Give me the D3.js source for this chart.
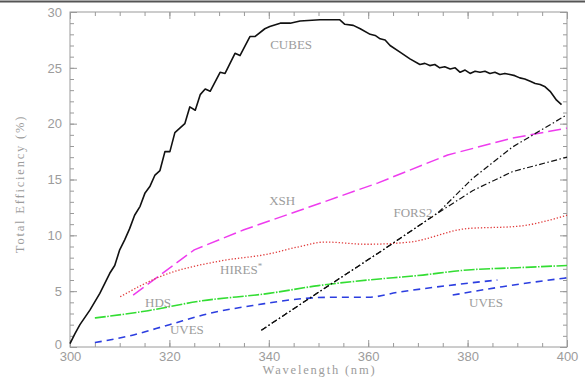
<!DOCTYPE html>
<html>
<head>
<meta charset="utf-8">
<script src="https://cdn.jsdelivr.net/npm/d3@7"></script>
<style>
  body { margin: 0; background: #fff; }
  svg { display: block; }
  .lbl { font-family: "Liberation Serif", serif; font-size: 13px; fill: #9c9c9c; }
  .tick text { font-family: "Liberation Sans", sans-serif; font-size: 13px; fill: #9c9c9c; }
  .tick line { stroke: #9a9a9a; }
</style>
</head>
<body>
<div id="chart"></div>
<script>
// wavelength (nm), total efficiency (%)
const cubes = [[300,0.3],[301,1.2],[302,2.0],[304,3.3],[306,4.8],[308,6.6],[309,7.3],[310,8.7],[311,9.6],
  [312,10.6],[313,11.8],[314.1,12.6],[315.1,13.8],[316.1,14.4],[317.1,15.4],[318.1,15.8],[319.1,17.5],
  [320.1,17.5],[321.1,19.2],[322.1,19.6],[323.1,20.0],[324.1,21.5],[325.2,21.2],[326.2,22.6],[327.2,23.1],
  [328.2,22.9],[330.2,24.6],[331.2,24.5],[333.2,26.3],[334.2,26.1],[336.2,27.8],[337.2,27.8],[339.2,28.5],
  [340.2,28.7],[342.3,29.0],[344.3,29.0],[346.3,29.2],[350.3,29.3],[354.3,29.3],[355.3,28.9],[357,28.8],
  [358.4,28.5],[360.4,28.0],[361.4,27.9],[362.4,27.6],[363.4,27.5],[364.4,27.0],[366.4,26.4],[368.4,25.8],
  [370.4,25.3],[371.4,25.4],[372.4,25.2],[373.4,25.3],[374.4,25.0],[375.4,25.1],[376.5,24.9],[377.5,25.0],
  [378.5,24.6],[379.5,24.8],[380.5,24.5],[381.5,24.7],[382.5,24.6],[383.5,24.7],[384.5,24.5],[385.5,24.6],
  [386.5,24.4],[387.5,24.5],[388.5,24.4],[389.5,24.3],[390.5,24.1],[391.5,24.0],[392.6,23.8],[393.6,23.6],
  [394.6,23.5],[395.6,23.3],[396.6,22.9],[397.9,22.1],[398.9,21.7]];
const xsh = [[312.7,4.65],[325,8.7],[335,10.5],[346,12.2],[362,14.7],[376,17.2],[389,18.7],[400,19.6]];
const hires = [[310.1,4.5],[318.1,6.3],[330.2,7.7],[339.6,8.3],[346.3,9.0],[351.3,9.4],[359.7,9.2],
  [368.4,9.4],[379.8,10.6],[389.9,10.8],[400,11.8]];
const hds = [[305,2.6],[315,3.2],[326,4.1],[340,4.8],[350,5.5],[360,6.0],[370,6.4],[380,6.9],[390,7.1],[400,7.3]];
const uves1 = [[305,0.4],[312,1.0],[320,2.0],[328,3.0],[338,3.8],[346,4.3],[352,4.45],[360,4.45],
  [366,4.9],[376,5.5],[386,6.0]];
const uves2 = [[377,4.65],[387,5.4],[400,6.2]];
const fors2a = [[338.5,1.5],[350,4.9],[363,8.7],[374,12.0],[381,15.1],[389,17.9],[400,20.8]];
const fors2b = [[338.5,1.5],[350,4.9],[363,8.7],[374,12.0],[381,14.0],[389,15.7],[400,17.0]];

const xTicks = [300, 320, 340, 360, 380, 400];
const yTicks = [0, 5, 10, 15, 20, 25, 30];

const series = [
  { data: cubes, color: "#111", width: 1.6, dash: null, curve: d3.curveLinear },
  { data: xsh, color: "#ee3cee", width: 1.5, dash: "13,5", curve: d3.curveLinear },
  { data: hires, color: "#e03a3a", width: 1.3, dash: "1.3,1.9", curve: d3.curveMonotoneX },
  { data: hds, color: "#33dd33", width: 1.6, dash: "11,1.5,1.5,1.5", curve: d3.curveMonotoneX },
  { data: uves1, color: "#2c3ee0", width: 1.6, dash: "7,5", curve: d3.curveMonotoneX },
  { data: uves2, color: "#2c3ee0", width: 1.6, dash: "7,5", curve: d3.curveMonotoneX },
  { data: fors2a, color: "#111", width: 1.2, dash: "6,2.5,1.5,2.5", curve: d3.curveLinear },
  { data: fors2b, color: "#111", width: 1.2, dash: "6,2.5,1.5,2.5", curve: d3.curveLinear }
];

const labels = [
  { text: "CUBES", x: 344.5, y: 26.7, anchor: "middle" },
  { text: "XSH", x: 342.7, y: 12.7, anchor: "middle" },
  { text: "FORS2", x: 369.0, y: 11.67, anchor: "middle" },
  { text: "HIRES", x: 330.2, y: 6.54, anchor: "start", star: true },
  { text: "HDS", x: 315.1, y: 3.6, anchor: "start" },
  { text: "UVES", x: 320.1, y: 1.16, anchor: "start" },
  { text: "UVES", x: 380.3, y: 3.6, anchor: "start" }
];

const W = 585, H = 382;
const plot = { left: 70, right: 567, top: 12, bottom: 347 };

const svg = d3.select("#chart").append("svg").attr("width", W).attr("height", H);

// screenshot border at the top
svg.append("line").attr("x1", 0).attr("x2", W).attr("y1", 1.5).attr("y2", 1.5)
  .attr("stroke", "#555").attr("stroke-width", 2);

const x = d3.scaleLinear().domain([300, 400]).range([plot.left, plot.right]);
const y = d3.scaleLinear().domain([0, 30]).range([plot.bottom, plot.top]);

function addAxis(axis, tx, ty) {
  const g = svg.append("g").attr("transform", `translate(${tx},${ty})`).call(axis);
  g.select(".domain").remove();
  return g;
}

const minorX = d3.range(300, 401, 5);
const minorY = d3.range(0, 31, 1);

// bottom / top
addAxis(d3.axisBottom(x).tickValues(minorX).tickSize(-4).tickFormat(""), 0, plot.bottom);
addAxis(d3.axisBottom(x).tickValues(xTicks).tickSize(-7).tickPadding(5).tickFormat(d3.format("d")), 0, plot.bottom);
addAxis(d3.axisTop(x).tickValues(minorX).tickSize(-4).tickFormat(""), 0, plot.top);
addAxis(d3.axisTop(x).tickValues(xTicks).tickSize(-7).tickFormat(""), 0, plot.top);
// left / right
addAxis(d3.axisLeft(y).tickValues(minorY).tickSize(-4).tickFormat(""), plot.left, 0);
const yAxisG = addAxis(d3.axisLeft(y).tickValues(yTicks).tickSize(-7).tickPadding(8).tickFormat(d3.format("d")), plot.left, 0);
// lift the "0" a little so it clears the "300" below it
yAxisG.selectAll(".tick text").filter(d => d === 0).attr("dy", "0.1em");
addAxis(d3.axisRight(y).tickValues(minorY).tickSize(-4).tickFormat(""), plot.right, 0);
addAxis(d3.axisRight(y).tickValues(yTicks).tickSize(-7).tickFormat(""), plot.right, 0);

svg.append("rect")
  .attr("x", plot.left).attr("y", plot.top)
  .attr("width", plot.right - plot.left).attr("height", plot.bottom - plot.top)
  .attr("fill", "none").attr("stroke", "#9a9a9a").attr("stroke-width", 1);

const lines = svg.append("g");
series.forEach(s => {
  const line = d3.line().x(d => x(d[0])).y(d => y(d[1])).curve(s.curve);
  lines.append("path").datum(s.data)
    .attr("d", line)
    .attr("fill", "none")
    .attr("stroke", s.color)
    .attr("stroke-width", s.width)
    .attr("stroke-dasharray", s.dash)
    .attr("stroke-linejoin", "round");
});

labels.forEach(l => {
  const t = svg.append("text").attr("class", "lbl")
    .attr("x", x(l.x)).attr("y", y(l.y))
    .attr("text-anchor", l.anchor)
    .text(l.text);
  if (l.star) t.append("tspan").attr("dy", -5).attr("font-size", 9).text("*");
});

// axis titles
svg.append("text").attr("class", "lbl")
  .attr("x", (plot.left + plot.right) / 2 + 1).attr("y", 374)
  .attr("text-anchor", "middle")
  .style("font-size", "12.5px").style("letter-spacing", "1.8px")
  .text("Wavelength (nm)");

svg.append("text").attr("class", "lbl")
  .attr("transform", "translate(24,184) rotate(-90)")
  .attr("text-anchor", "middle")
  .style("font-size", "12.5px").style("letter-spacing", "1.8px")
  .text("Total Efficiency (%)");
</script>
</body>
</html>
